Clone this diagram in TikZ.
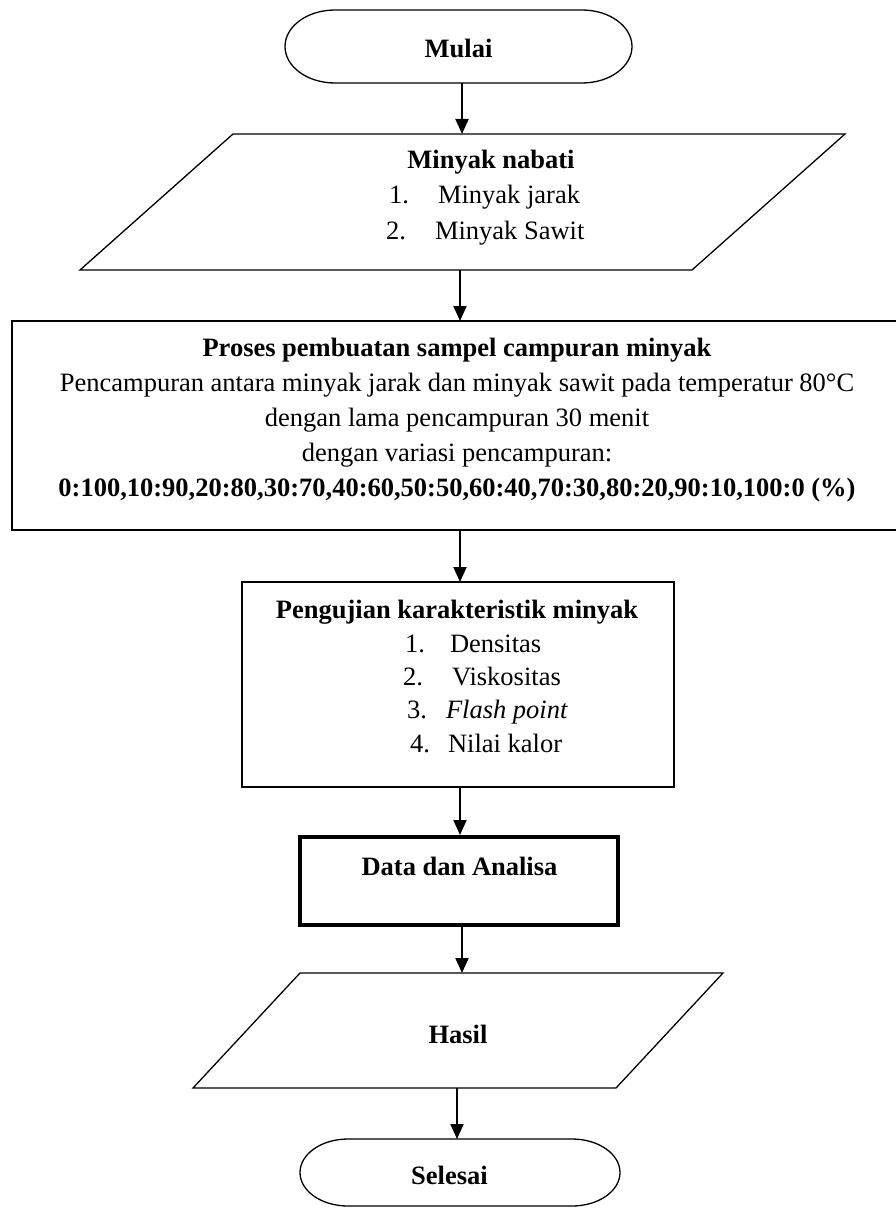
\documentclass[tikz,border=0pt]{standalone}
\usepackage{fontspec}
\setmainfont{Liberation Serif}
\usetikzlibrary{arrows.meta,calc}
\begin{document}
\begin{tikzpicture}[x=1pt,y=-1pt,
  shapebox/.style={draw=none,rectangle,inner sep=0pt,outer sep=0pt},
  outline/.style={draw=black,line width=1.3pt},
  heavy/.style={draw=black,line width=4pt},
  txt/.style={inner sep=0pt,outer sep=0pt,anchor=base,font=\fontsize{26.5}{32}\selectfont},
  btxt/.style={txt,font=\fontsize{26.5}{32}\selectfont\bfseries},
  ltxt/.style={txt,anchor=base west},
  arr/.style={draw=black,line width=2pt,-{Triangle[length=15pt,width=13pt]}}
]
\useasboundingbox (0,0) rectangle (895,1209);

% ---- shape carriers
\node[shapebox,minimum width=347pt,minimum height=73pt] (mulai) at (458.5,46.5) {};
\node[shapebox,minimum width=765pt,minimum height=136pt] (par1) at (462.5,202) {};
\node[shapebox,minimum width=888pt,minimum height=209pt] (proses) at (456,425.5) {};
\node[shapebox,minimum width=432pt,minimum height=205pt] (uji) at (458,684.5) {};
\node[shapebox,minimum width=318pt,minimum height=88pt] (data) at (459,881) {};
\node[shapebox,minimum width=530pt,minimum height=115pt] (hasil) at (458,1030.5) {};
\node[shapebox,minimum width=320pt,minimum height=67pt] (selesai) at (460,1172.5) {};

% ---- outlines
\draw[outline] ($(mulai.north west)+(50,0)$) -- ($(mulai.north east)+(-50,0)$)
  arc[start angle=90,end angle=-90,x radius=50pt,y radius=36.5pt]
  -- ($(mulai.south west)+(50,0)$)
  arc[start angle=270,end angle=90,x radius=50pt,y radius=36.5pt] -- cycle;
\draw[outline] (par1.south west) -- ($(par1.north west)+(153,0)$) -- (par1.north east)
  -- ($(par1.south east)+(-153,0)$) -- cycle;
\draw[outline] (proses.south west) rectangle (proses.north east);
\draw[outline] (uji.south west) rectangle (uji.north east);
\draw[heavy] (data.south west) rectangle (data.north east);
\draw[outline] (hasil.south west) -- ($(hasil.north west)+(107,0)$) -- (hasil.north east)
  -- ($(hasil.south east)+(-107,0)$) -- cycle;
\draw[outline] ($(selesai.north west)+(48,0)$) -- ($(selesai.north east)+(-48,0)$)
  arc[start angle=90,end angle=-90,x radius=48pt,y radius=33.5pt]
  -- ($(selesai.south west)+(48,0)$)
  arc[start angle=270,end angle=90,x radius=48pt,y radius=33.5pt] -- cycle;

% ---- texts
\node[btxt] (tmulai) at (458.5,58) {Mulai};

\node[btxt] (tpar1) at (491,169) {Minyak nabati};
\node[ltxt] (n11) at (389,204) {1.};
\node[ltxt] (i11) at (438,204) {Minyak jarak};
\node[ltxt] (n12) at (386,239) {2.};
\node[ltxt] (i12) at (435,239) {Minyak Sawit};

\node[btxt] (tpro1) at (457,356) {Proses pembuatan sampel campuran minyak};
\node[txt] (tpro2) at (457,391) {Pencampuran antara minyak jarak dan minyak sawit pada temperatur 80°C};
\node[txt] (tpro3) at (457,426) {dengan lama pencampuran 30 menit};
\node[txt] (tpro4) at (457,461) {dengan variasi pencampuran:};
\node[btxt] (tpro5) at (457,496) {0:100,10:90,20:80,30:70,40:60,50:50,60:40,70:30,80:20,90:10,100:0 (\%)};

\node[btxt] (tuji) at (457,618) {Pengujian karakteristik minyak};
\node[ltxt] (n21) at (405,652) {1.};
\node[ltxt] (i21) at (450,652) {Densitas};
\node[ltxt] (n22) at (403,685) {2.};
\node[ltxt] (i22) at (452,685) {Viskositas};
\node[ltxt] (n23) at (407,718) {3.};
\node[ltxt] (i23) at (446,718) {\itshape Flash point};
\node[ltxt] (n24) at (410,752) {4.};
\node[ltxt] (i24) at (448,752) {Nilai kalor};

\node[btxt] (tdata) at (459.5,875) {Data dan Analisa};
\node[btxt] (thasil) at (458,1043) {Hasil};
\node[btxt] (tselesai) at (449.5,1184) {Selesai};

% ---- connectors
\draw[arr] ([xshift=3.5pt]mulai.south) -- ([xshift=3.5pt]mulai.south |- par1.north);
\draw[arr] ([xshift=-2.5pt]par1.south) -- ([xshift=-2.5pt]par1.south |- proses.north);
\draw[arr] ([xshift=4pt]proses.south) -- ([xshift=4pt]proses.south |- uji.north);
\draw[arr] ([xshift=2pt]uji.south) -- ([xshift=2pt,yshift=2pt]uji.south |- data.north);
\draw[arr] ([xshift=3pt,yshift=-2pt]data.south) -- ([xshift=3pt]data.south |- hasil.north);
\draw[arr] ([xshift=-1pt]hasil.south) -- ([xshift=-1pt]hasil.south |- selesai.north);
\end{tikzpicture}
\end{document}
